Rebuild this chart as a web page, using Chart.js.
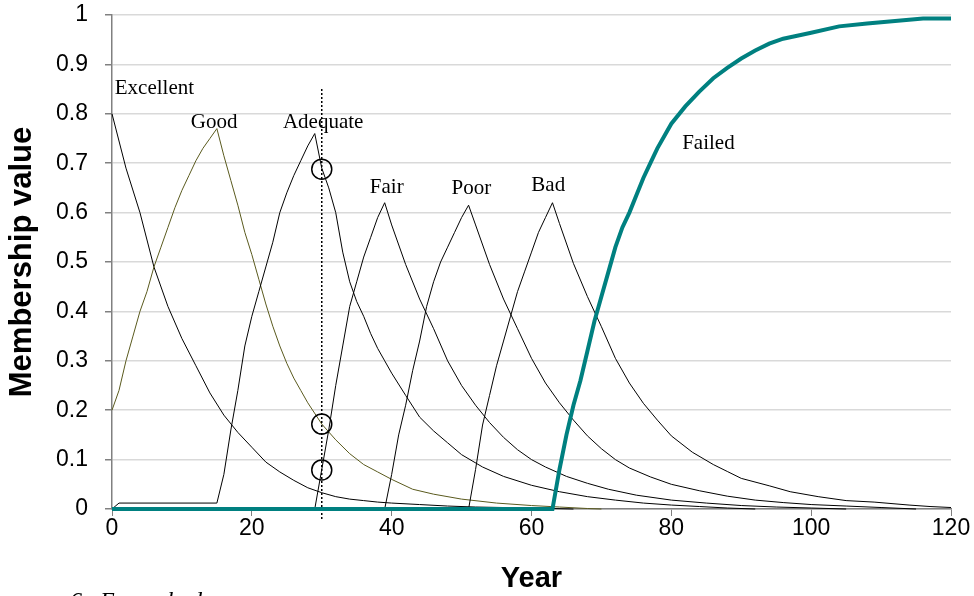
<!DOCTYPE html>
<html>
<head>
<meta charset="utf-8">
<script src="https://cdn.jsdelivr.net/npm/chart.js@4.4.0/dist/chart.umd.min.js"></script>
<style>
    body { margin: 0; background: #fff; }
    #wrap { width: 974px; height: 596px; position: relative; }
</style>
</head>
<body>
<div id="wrap"><canvas id="membershipChart"></canvas></div>
<script>
// axis ticks
const xTicks = [0, 20, 40, 60, 80, 100, 120];
const yTicks = [0, 0.1, 0.2, 0.3, 0.4, 0.5, 0.6, 0.7, 0.8, 0.9, 1];
const yTickLabels = ['0', '0.1', '0.2', '0.3', '0.4', '0.5', '0.6', '0.7', '0.8', '0.9', '1'];

// membership curves (year, value)
const excellentYears = [0, 2, 4, 6, 8, 10, 12, 14, 16, 18, 20, 22, 24, 26, 28, 30, 32, 34, 36, 38, 40, 44, 48, 52, 56, 60, 66];
const excellentValues = [0.8, 0.69, 0.6, 0.49, 0.41, 0.345, 0.29, 0.235, 0.19, 0.155, 0.125, 0.095, 0.075, 0.058, 0.043, 0.033, 0.025, 0.02, 0.017, 0.014, 0.012, 0.009, 0.006, 0.004, 0.003, 0.002, 0];

const goodYears = [0, 1, 2, 3, 4, 5, 6, 7, 8, 9, 10, 11, 12, 13, 14, 15, 16, 17, 18, 19, 20, 21, 22, 23, 24, 25, 26, 27, 28, 30, 32, 34, 36, 38, 40, 43, 46, 50, 55, 60, 64, 68, 70];
const goodValues = [0.2, 0.24, 0.3, 0.35, 0.4, 0.44, 0.49, 0.53, 0.57, 0.61, 0.645, 0.675, 0.705, 0.73, 0.75, 0.77, 0.715, 0.665, 0.615, 0.56, 0.515, 0.465, 0.415, 0.37, 0.33, 0.295, 0.265, 0.24, 0.215, 0.172, 0.14, 0.112, 0.09, 0.075, 0.06, 0.04, 0.03, 0.02, 0.012, 0.007, 0.004, 0.001, 0];

const adequateYears = [0, 1, 15, 16, 17, 18, 19, 20, 21, 22, 23, 24, 25, 26, 27, 28, 29, 30, 31, 32, 33, 34, 35, 36, 37, 38, 39, 40, 42, 44, 46, 48, 50, 53, 56, 60, 64, 68, 72, 76, 80, 84, 88, 92];
const adequateValues = [0, 0.012, 0.012, 0.07, 0.16, 0.24, 0.33, 0.39, 0.44, 0.49, 0.54, 0.6, 0.64, 0.675, 0.705, 0.735, 0.76, 0.69, 0.65, 0.6, 0.52, 0.46, 0.42, 0.39, 0.355, 0.325, 0.3, 0.275, 0.23, 0.186, 0.158, 0.134, 0.11, 0.085, 0.066, 0.048, 0.035, 0.025, 0.018, 0.012, 0.008, 0.005, 0.002, 0];

const fairYears = [0, 29, 30, 31, 32, 33, 34, 35, 36, 37, 38, 39, 40, 42, 44, 46, 48, 50, 52, 54, 56, 58, 60, 62, 65, 68, 71, 75, 80, 85, 90, 95, 100, 105];
const fairValues = [0, 0, 0.08, 0.16, 0.25, 0.33, 0.41, 0.46, 0.51, 0.55, 0.59, 0.62, 0.575, 0.495, 0.425, 0.365, 0.3, 0.25, 0.21, 0.175, 0.145, 0.12, 0.1, 0.085, 0.066, 0.052, 0.04, 0.028, 0.018, 0.012, 0.007, 0.004, 0.002, 0];

const poorYears = [0, 39, 40, 41, 42, 43, 44, 45, 46, 47, 48, 49, 50, 51, 52, 54, 56, 58, 60, 62, 64, 66, 68, 70, 72, 74, 77, 80, 84, 88, 92, 96, 100, 105, 110, 115];
const poorValues = [0, 0, 0.07, 0.15, 0.21, 0.28, 0.34, 0.41, 0.46, 0.5, 0.53, 0.56, 0.59, 0.615, 0.575, 0.495, 0.425, 0.365, 0.305, 0.255, 0.215, 0.18, 0.148, 0.122, 0.1, 0.083, 0.065, 0.05, 0.037, 0.026, 0.018, 0.013, 0.009, 0.006, 0.003, 0];

const badYears = [0, 51, 52, 53, 54, 55, 56, 57, 58, 59, 60, 61, 62, 63, 64, 66, 68, 70, 72, 74, 76, 78, 80, 83, 86, 88, 90, 94, 97, 101, 105, 109, 114, 117, 120];
const badValues = [0, 0, 0.08, 0.17, 0.23, 0.29, 0.34, 0.39, 0.44, 0.48, 0.52, 0.56, 0.59, 0.62, 0.578, 0.497, 0.43, 0.369, 0.305, 0.255, 0.214, 0.18, 0.148, 0.115, 0.09, 0.076, 0.062, 0.047, 0.035, 0.025, 0.017, 0.014, 0.008, 0.005, 0.003];

const failedYears = [0, 63, 64, 65, 66, 67, 68, 69, 70, 71, 72, 73, 74, 75, 76, 77, 78, 79, 80, 82, 84, 86, 88, 90, 92, 94, 96, 98, 100, 104, 108, 112, 116, 120];
const failedValues = [0, 0, 0.08, 0.15, 0.21, 0.26, 0.32, 0.38, 0.43, 0.48, 0.53, 0.57, 0.6, 0.635, 0.67, 0.7, 0.73, 0.755, 0.78, 0.815, 0.845, 0.872, 0.893, 0.912, 0.928, 0.942, 0.952, 0.958, 0.964, 0.977, 0.983, 0.988, 0.993, 0.993];

// year 30 marker and the three memberships picked off there
const markerYears = [30, 30];
const markerValues = [0.85, -0.02];
const circleYears = [30, 30, 30];
const circleValues = [0.688, 0.172, 0.079];

// curve names written on the plot
const curveNames = ['Excellent', 'Good', 'Adequate', 'Fair', 'Poor', 'Bad', 'Failed'];
const nameYears = [0.4, 14.6, 30.2, 39.3, 51.4, 62.4, 85.3];
const nameValues = [0.852, 0.783, 0.783, 0.65, 0.648, 0.654, 0.739];

function toPoints(xs, ys) {
    return xs.map((x, i) => ({ x: x, y: ys[i] }));
}

function curve(label, xs, ys, color, width, order) {
    return {
        label: label,
        data: toPoints(xs, ys),
        borderColor: color,
        borderWidth: width,
        pointRadius: 0,
        tension: 0,
        clip: false,
        order: order
    };
}

const curveLabels = {
    id: 'curveLabels',
    afterDatasetsDraw(chart) {
        const { ctx, scales: { x, y } } = chart;
        ctx.save();
        ctx.font = '21px "Liberation Serif", "Times New Roman", serif';
        ctx.fillStyle = '#000';
        ctx.textBaseline = 'middle';
        curveNames.forEach((name, i) => {
            ctx.textAlign = i === 0 ? 'left' : 'center';
            ctx.fillText(name, x.getPixelForValue(nameYears[i]), y.getPixelForValue(nameValues[i]));
        });
        // caption of the figure, cut off by the page edge
        ctx.font = 'italic 24px "Liberation Serif", "Times New Roman", serif';
        ctx.textAlign = 'left';
        ctx.textBaseline = 'alphabetic';
        ctx.fillText('6.  Example de', 70, 608);
        ctx.restore();
    }
};

const ctx = document.getElementById('membershipChart').getContext('2d');
Chart.defaults.font.family = '"Liberation Sans", Arial, sans-serif';
Chart.defaults.color = '#000';

new Chart(ctx, {
    type: 'line',
    data: {
        datasets: [
            curve('Failed', failedYears, failedValues, '#008080', 4, 0),
            curve('Excellent', excellentYears, excellentValues, '#000', 1, 5),
            curve('Good', goodYears, goodValues, '#5a5a1e', 1, 4),
            curve('Adequate', adequateYears, adequateValues, '#000', 1, 3),
            curve('Fair', fairYears, fairValues, '#000', 1, 3),
            curve('Poor', poorYears, poorValues, '#000', 1, 3),
            curve('Bad', badYears, badValues, '#000', 1, 3),
            {
                label: 'Year 30',
                data: toPoints(markerYears, markerValues),
                borderColor: '#000',
                borderWidth: 1.5,
                borderDash: [2, 2],
                pointRadius: 0,
                clip: false,
                order: 1
            },
            {
                label: 'Picked',
                data: toPoints(circleYears, circleValues),
                showLine: false,
                pointRadius: 10,
                pointBorderWidth: 1.5,
                pointBorderColor: '#000',
                pointBackgroundColor: 'rgba(0,0,0,0)',
                clip: false,
                order: 0
            }
        ]
    },
    options: {
        responsive: true,
        maintainAspectRatio: false,
        animation: false,
        layout: {
            padding: { left: 0, top: 15, right: 23, bottom: 0 }
        },
        plugins: {
            legend: { display: false },
            tooltip: { enabled: false }
        },
        scales: {
            x: {
                type: 'linear',
                min: 0,
                max: 120,
                afterBuildTicks: scale => { scale.ticks = xTicks.map(v => ({ value: v })); },
                afterFit: scale => {
                    scale.height = 87;
                    scale.paddingLeft = 0;
                    scale.paddingRight = 0;
                },
                ticks: {
                    font: { size: 23 },
                    padding: -1,
                    maxRotation: 0
                },
                grid: {
                    drawOnChartArea: false,
                    drawTicks: true,
                    tickLength: 7,
                    tickColor: '#808080'
                },
                border: { color: '#808080', width: 1.5 },
                title: {
                    display: true,
                    text: 'Year',
                    font: { size: 29, weight: 'bold' },
                    padding: { top: 0, bottom: 0 }
                }
            },
            y: {
                min: 0,
                max: 1,
                afterBuildTicks: scale => { scale.ticks = yTicks.map(v => ({ value: v })); },
                afterFit: scale => {
                    scale.width = 112;
                    scale.paddingTop = 0;
                    scale.paddingBottom = 0;
                },
                ticks: {
                    font: { size: 23 },
                    padding: 17,
                    callback: (value, index) => yTickLabels[index]
                },
                grid: {
                    color: '#d9d9d9',
                    lineWidth: 1.5,
                    tickLength: 7,
                    tickColor: '#808080'
                },
                border: { color: '#808080', width: 1.5 },
                title: {
                    display: true,
                    text: 'Membership value',
                    font: { size: 31, weight: 'bold' },
                    padding: { top: 4, bottom: 0 }
                }
            }
        }
    },
    plugins: [curveLabels]
});
</script>
</body>
</html>
